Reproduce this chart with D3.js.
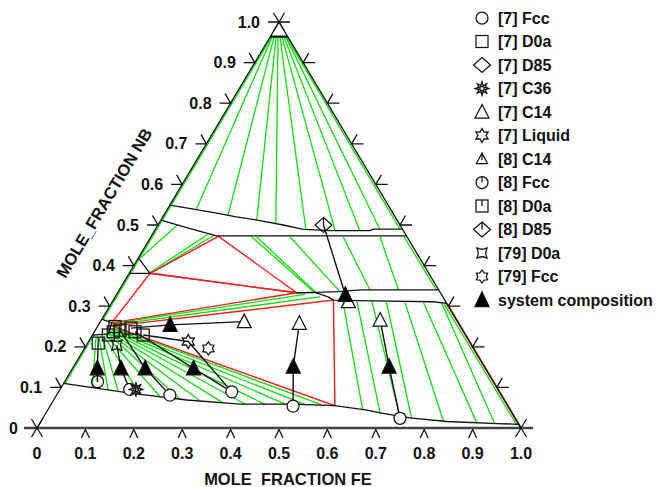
<!DOCTYPE html>
<html><head><meta charset="utf-8">
<script src="https://cdn.jsdelivr.net/npm/d3@7/dist/d3.min.js"></script>
<style>
body{margin:0;background:#fff}
text{font-family:"Liberation Sans",Arial,Helvetica,sans-serif;font-weight:bold;fill:#111}
</style>
</head><body>
<svg id="chart" width="663" height="487"></svg>
<script>
// ---------- tick labels ----------
const feTicks = [0,0.1,0.2,0.3,0.4,0.5,0.6,0.7,0.8,0.9,1.0];
const feTickLabels = ["0","0.1","0.2","0.3","0.4","0.5","0.6","0.7","0.8","0.9","1.0"];
const nbTicks = [0,0.1,0.2,0.3,0.4,0.5,0.6,0.7,0.8,0.9,1.0];
const nbTickLabels = ["0","0.1","0.2","0.3","0.4","0.5","0.6","0.7","0.8","0.9","1.0"];
const xTitle = "MOLE  FRACTION FE";
const yTitle = "MOLE_FRACTION NB";

// ---------- phase boundaries [xFe, xNb] ----------
const bndNbCorner = [[0,0.964],[0.036,0.964]];
const bndMuUpper = [[0,0.549],[0.054,0.539],[0.107,0.529],[0.152,0.520],[0.205,0.511],[0.259,0.500],[0.306,0.489],[0.366,0.486],[0.445,0.486],[0.450,0.490],[0.510,0.490]];
const bndMuLower = [[0,0.512],[0.054,0.496],[0.095,0.484],[0.135,0.473],[0.527,0.473]];
const bndC14Upper = [[0.370,0.333],[0.458,0.336],[0.497,0.340],[0.660,0.340]];
const bndC14Lower = [[0.370,0.333],[0.407,0.334],[0.440,0.323],[0.455,0.315],[0.538,0.313],[0.663,0.311],[0.693,0.307]];
const bndFcc = [[0,0.110],[0.088,0.096],[0.149,0.086],[0.200,0.079],[0.275,0.069],[0.390,0.059],[0.499,0.059],[0.588,0.055],[0.660,0.044],[0.690,0.037],[0.758,0.025],[0.839,0.016],[0.945,0.011],[0.991,0.009]];
const bndD0a = [[0,0.268],[0.025,0.259],[0.032,0.232],[0,0.229]];
const bndLiq = [[0,0.419],[0.043,0.381],[0,0.381]];

// ---------- three-phase triangles (red) ----------
const tri1 = [[0.043,0.381],[0.139,0.472],[0.370,0.333]];
const tri2 = [[0.025,0.259],[0.043,0.381],[0.370,0.333]];
const tri3 = [[0.031,0.251],[0.455,0.315],[0.588,0.055]];
const redEdge = [[0.694,0.306],[1,0]];

// ---------- tie-lines (green) ----------
const tiesBcc = [
  [[0.003,0.962],[0.003,0.549]],[[0.004,0.964],[0.060,0.537]],[[0.008,0.964],[0.133,0.523]],
  [[0.012,0.964],[0.198,0.512]],[[0.016,0.964],[0.242,0.503]],[[0.020,0.964],[0.311,0.489]],
  [[0.024,0.964],[0.373,0.486]],[[0.028,0.964],[0.424,0.486]],[[0.032,0.964],[0.464,0.489]],
  [[0.033,0.964],[0.505,0.490]]];
const tiesMuC14 = [
  [[0.208,0.471],[0.403,0.336]],[[0.218,0.471],[0.412,0.332]],[[0.287,0.471],[0.458,0.336]],
  [[0.397,0.471],[0.518,0.340]],[[0.473,0.471],[0.577,0.340]],[[0.522,0.472],[0.655,0.340]],
  [[0.042,0.383],[0.115,0.478]],[[0.046,0.383],[0.128,0.474]],[[0.005,0.420],[0.040,0.500]]];
const tiesEdge = [[[0.003,0.268],[0.003,0.549]],[[0.003,0.110],[0.003,0.229]]];
const tiesD0aC14 = [[[0.026,0.257],[0.389,0.329]],[[0.029,0.254],[0.423,0.323]]];
const tiesD0aFcc = [
  [[0.010,0.224],[0.064,0.100]],[[0.016,0.224],[0.100,0.094]],[[0.021,0.227],[0.122,0.091]],
  [[0.025,0.227],[0.171,0.083]],[[0.028,0.229],[0.216,0.077]],[[0.031,0.232],[0.260,0.071]],
  [[0.032,0.234],[0.303,0.067]],[[0.033,0.236],[0.351,0.063]],[[0.033,0.239],[0.400,0.059]],
  [[0.034,0.241],[0.441,0.059]],[[0.034,0.244],[0.483,0.059]],[[0.034,0.246],[0.524,0.058]],
  [[0.033,0.249],[0.560,0.057]]];
const tiesC14Fcc = [
  [[0.476,0.312],[0.651,0.044]],[[0.505,0.312],[0.691,0.036]],[[0.536,0.312],[0.737,0.026]],
  [[0.567,0.310],[0.762,0.024]],[[0.605,0.310],[0.832,0.016]],[[0.644,0.309],[0.903,0.012]],
  [[0.682,0.308],[0.941,0.010]],[[0.689,0.305],[0.986,0.009]]];

// ---------- experimental data ----------
const fcc7 = [[0.144,0.095],[0.234,0.081],[0.358,0.089],[0.502,0.054],[0.738,0.024]];
const d0a7 = [[0.033,0.229],[0.039,0.237],[0.036,0.250],[0.051,0.241],[0.071,0.246],[0.084,0.237],[0.105,0.229]];
const d85_7 = [];
const c36_7 = [[0.157,0.095]];
const c14_7 = [[0.297,0.262],[0.413,0.258],[0.576,0.266],[0.488,0.311]];
const liquid7 = [[0.206,0.213]];
const c14_8 = [];
const fcc8 = [[0.068,0.114]];
const d0a8 = [[0.022,0.209]];
const d85_8 = [[0.342,0.500]];
const d0a79 = [[0.063,0.204]];
const fcc79 = [[0.256,0.196]];
const systemComp = [[0.051,0.147],[0.100,0.147],[0.150,0.147],[0.250,0.147],[0.148,0.254],[0.454,0.151],[0.652,0.151],[0.473,0.328]];
const expTies = [
  [[0.022,0.209],[0.051,0.147],[0.068,0.114]],
  [[0.063,0.204],[0.100,0.147],[0.144,0.095]],
  [[0.051,0.241],[0.150,0.147],[0.234,0.081]],
  [[0.084,0.237],[0.250,0.147],[0.358,0.089]],
  [[0.105,0.229],[0.206,0.213],[0.358,0.089]],
  [[0.071,0.246],[0.148,0.254],[0.297,0.262]],
  [[0.502,0.054],[0.454,0.151],[0.413,0.258]],
  [[0.738,0.024],[0.652,0.151],[0.576,0.266]],
  [[0.342,0.500],[0.473,0.328],[0.488,0.311]]];

const legendLabels = ["[7] Fcc","[7] D0a","[7] D85","[7] C36","[7] C14","[7] Liquid","[8] C14","[8] Fcc","[8] D0a","[8] D85","[79] D0a","[79] Fcc","system composition"];
const legendTypes = ["circle","square","diamond","sun","tri","hexagram","tri8","circle8","square8","diamond8","concave","star6","filled"];

// ---------- drawing ----------
const svg = d3.select("#chart");
const X = d3.scaleLinear().domain([0,1]).range([37,521]);
const Y = d3.scaleLinear().domain([0,1]).range([428,22]);
const P = d => [X(d[0] + d[1]/2), Y(d[1])];
const line = d3.line().x(d => P(d)[0]).y(d => P(d)[1]);
const GREEN = "#10de10", RED = "#ff1a1a";
const FS = 16;

const gG = svg.append("g").attr("fill","none").attr("stroke",GREEN).attr("stroke-width",1.3);
[tiesBcc, tiesMuC14, tiesEdge, tiesD0aC14, tiesD0aFcc, tiesC14Fcc].forEach(set =>
  set.forEach(s => gG.append("path").attr("d", line(s))));

const gR = svg.append("g").attr("fill","none").attr("stroke",RED).attr("stroke-width",1.4);
[tri1, tri2, tri3].forEach(t => gR.append("path").attr("d", line(t) + "Z"));
gR.append("path").attr("d", line(redEdge)).attr("stroke-width",1.8);

const gB = svg.append("g").attr("fill","none").attr("stroke","#111").attr("stroke-width",1.3);
[bndMuUpper, bndMuLower, bndC14Upper, bndC14Lower, bndFcc, bndD0a, bndLiq].forEach(b =>
  gB.append("path").attr("d", line(b)));
gB.append("path").attr("d", line(bndNbCorner)).attr("stroke-width",2.2);

// frame
const gF = svg.append("g").attr("fill","none").attr("stroke","#111").attr("stroke-width",1.3);
gF.append("path").attr("d", line([[0,0],[0,1],[1,0]]));
gF.append("line").attr("x1", X(0)-13).attr("x2", X(1)+12).attr("y1", Y(0)).attr("y2", Y(0))
  .attr("stroke","#444").attr("stroke-width",2.6);

// bottom ticks & labels
feTicks.forEach((t,i) => {
  const [x,y] = P([t,0]);
  if (i > 0 && i < feTicks.length-1)
    gF.append("path").attr("d", `M${x-4},${y+10}L${x},${y+1.5}L${x+4},${y+10}`);
  else
    gF.append("path").attr("d", `M${x-5.5},${y+9}L${x+5.5},${y-9}M${x-5.5},${y-9}L${x+5.5},${y+9}`);
  svg.append("text").attr("x", x).attr("y", y+25).attr("text-anchor","middle")
    .attr("dominant-baseline","central").attr("font-size",FS).text(feTickLabels[i]);
});
// left / right ticks & labels
nbTicks.forEach((t,i) => {
  const [x,y] = P([0,t]);
  if (i > 0 && i < nbTicks.length-1) {
    gF.append("path").attr("d", `M${x-11},${y}L${x},${y}L${x-5.5},${y-9.5}`);
    const [rx,ry] = P([1-t,t]);
    gF.append("path").attr("d", `M${rx+12},${ry}L${rx},${ry}L${rx+5.5},${ry-9.5}`);
  }
  if (i === nbTicks.length-1) {
    gF.append("path").attr("d", `M${x-5.5},${y+9}L${x+5.5},${y-9}M${x-5.5},${y-9}L${x+5.5},${y+9}M${x-11},${y}L${x+11},${y}`);
  }
  svg.append("text").attr("x", x-19).attr("y", y).attr("text-anchor","end")
    .attr("dominant-baseline","central").attr("font-size",FS).text(nbTickLabels[i]);
});

// axis titles
svg.append("text").attr("x", 288).attr("y", 479).attr("text-anchor","middle")
  .attr("dominant-baseline","central").attr("font-size",16.5).style("white-space","pre").text(xTitle);
svg.append("text").attr("transform","translate(104,203) rotate(-59.2)").attr("text-anchor","middle")
  .attr("dominant-baseline","central").attr("font-size",16.5).text(yTitle);

// experimental tie-lines
const gE = svg.append("g").attr("fill","none").attr("stroke","#111").attr("stroke-width",1.4);
expTies.forEach(t => gE.append("path").attr("d", line(t)));

function marker(g, type, x, y) {
  const k = g.append("g").attr("transform", `translate(${x},${y})`)
    .attr("fill","none").attr("stroke","#111").attr("stroke-width",1.25);
  const poly = (n, ro, ri, rot) => {
    const pts = [];
    for (let j = 0; j < 2*n; j++) {
      const a = rot + j*Math.PI/n, r = j%2 ? ri : ro;
      pts.push([r*Math.sin(a), -r*Math.cos(a)]);
    }
    return "M" + pts.map(p => p.join(",")).join("L") + "Z";
  };
  switch (type) {
    case "circle": k.append("circle").attr("r",6).attr("fill","#fff"); break;
    case "square": k.append("rect").attr("x",-6).attr("y",-6).attr("width",12).attr("height",12); break;
    case "diamond": k.append("path").attr("d","M0,-7.5L8.5,0L0,7.5L-8.5,0Z"); break;
    case "tri": k.append("path").attr("d","M0,-7.5L7,6L-7,6Z").attr("fill","#fff"); break;
    case "sun":
      k.append("path").attr("d", poly(8,6.5,3.2,0)).attr("stroke-width",1.4);
      k.append("circle").attr("r",2.2); break;
    case "hexagram": k.append("path").attr("d", poly(6,7,4,0)).attr("stroke-width",1.3); break;
    case "tri8": k.append("path").attr("d","M0,-6L5.5,4.5L-5.5,4.5ZM0,-6L0,1"); break;
    case "circle8": k.append("circle").attr("r",6); k.append("path").attr("d","M0,-6L0,0"); break;
    case "square8": k.append("rect").attr("x",-6).attr("y",-6).attr("width",12).attr("height",12);
      k.append("path").attr("d","M0,-6L0,0"); break;
    case "diamond8": k.append("path").attr("d","M0,-7.5L8.5,0L0,7.5L-8.5,0ZM0,-7.5L0,0"); break;
    case "concave": k.append("path").attr("d","M-5.5,-5.5Q0,-2 5.5,-5.5Q2,0 5.5,5.5Q0,2 -5.5,5.5Q-2,0 -5.5,-5.5Z"); break;
    case "star6": k.append("path").attr("d", poly(6,6.5,4.2,0)); break;
    case "filled": k.append("path").attr("d","M0,-8L7,6.5L-7,6.5Z").attr("fill","#000"); break;
  }
}
const gM = svg.append("g");
const markerSets = [[d0a7,"square"],[d0a8,"square8"],[d0a79,"concave"],[fcc7,"circle"],[fcc8,"circle8"],[fcc79,"star6"],
  [c36_7,"sun"],[liquid7,"hexagram"],[c14_7,"tri"],[c14_8,"tri8"],[d85_7,"diamond"],[d85_8,"diamond8"],[systemComp,"filled"]];
markerSets.forEach(([data,type]) => data.forEach(d => { const [x,y] = P(d); marker(gM, type, x, y); }));

// legend
const gL = svg.append("g");
legendLabels.forEach((lab,i) => {
  const y = 18 + i*23.5;
  marker(gL, legendTypes[i], 482, y);
  gL.append("text").attr("x", 498).attr("y", y).attr("dominant-baseline","central")
    .attr("font-size",FS).text(lab);
});
</script>
</body></html>
